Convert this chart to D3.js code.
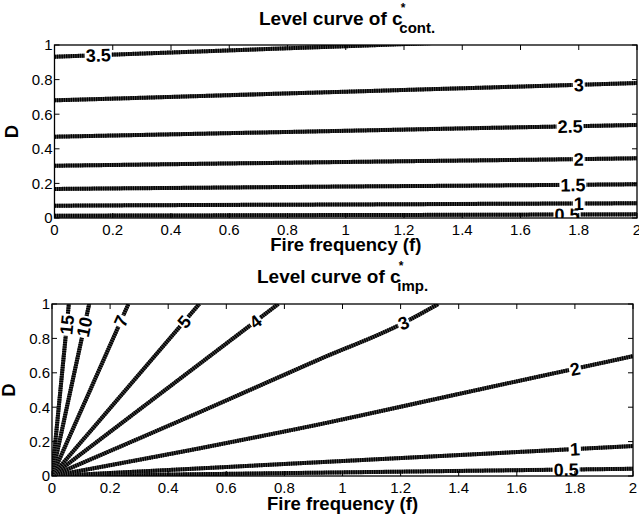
<!DOCTYPE html>
<html>
<head>
<meta charset="utf-8">
<script src="https://cdn.jsdelivr.net/npm/d3@7"></script>
<style>
  body { margin: 0; background: #fff; }
  svg { font-family: 'Liberation Sans', Arial, Helvetica, sans-serif; }
</style>
</head>
<body>
<svg id="chart" width="639" height="519"></svg>
<script>
// level curves of c*_cont. (top panel), sampled at these f values
const contF = [0, 0.5, 1, 1.5, 2]
const contLevels = ['0.5', '1', '1.5', '2', '2.5', '3', '3.5']
const contD = [
  [0.013, 0.015, 0.017, 0.019, 0.021],
  [0.071, 0.075, 0.078, 0.082, 0.085],
  [0.168, 0.175, 0.182, 0.188, 0.195],
  [0.302, 0.313, 0.324, 0.334, 0.345],
  [0.470, 0.487, 0.504, 0.521, 0.538],
  [0.680, 0.705, 0.730, 0.755, 0.780],
  [0.932, 0.963, 0.993, 1.024, 1.055]
]
const contLabelF = [1.76, 1.8, 1.78, 1.8, 1.77, 1.8, 0.15]

// level curves of c*_imp. (bottom panel), each its own f/D points
const impLevels = ['0.5', '1', '2', '3', '4', '5', '7', '10', '15']
const impF = [
  [0, 2],
  [0, 2],
  [0, 0.5, 0.92, 1.4, 2],
  [0, 0.5, 0.92, 1.21, 1.33],
  [0, 0.779],
  [0, 0.507],
  [0, 0.263],
  [0, 0.128],
  [0, 0.058]
]
const impD = [
  [0, 0.042],
  [0, 0.174],
  [0, 0.158, 0.30, 0.477, 0.697],
  [0, 0.365, 0.678, 0.89, 1.0],
  [0, 1],
  [0, 1],
  [0, 1],
  [0, 1],
  [0, 1]
]
const impLabelF = [1.77, 1.8, 1.8, 1.21, 0.70, 0.455, 0.237, 0.111, 0.051]

const xTicks = [0, 0.2, 0.4, 0.6, 0.8, 1, 1.2, 1.4, 1.6, 1.8, 2]
const yTicks = [0, 0.2, 0.4, 0.6, 0.8, 1]

const svg = d3.select('#chart')

function drawPanel (opts) {
  const {id, left, right, top, bottom, titleX, titleY, subText, xLabelY, curves} = opts
  const x = d3.scaleLinear().domain([0, 2]).range([left, right])
  const y = d3.scaleLinear().domain([0, 1]).range([bottom, top])
  const g = svg.append('g')

  svg.append('clipPath').attr('id', 'clip-' + id)
    .append('rect')
    .attr('x', left).attr('y', top)
    .attr('width', right - left).attr('height', bottom - top)

  const plot = g.append('g').attr('clip-path', `url(#clip-${id})`)
  const line = d3.line()
    .x(d => x(d[0]))
    .y(d => y(d[1]))
    .curve(d3.curveMonotoneX)

  curves.forEach(c => {
    const pts = c.f.map((f, i) => [f, c.d[i]])
    plot.append('path')
      .attr('d', line(pts))
      .attr('fill', 'none')
      .attr('stroke', '#555')
      .attr('stroke-width', 4)
    plot.append('path')
      .attr('d', line(pts))
      .attr('fill', 'none')
      .attr('stroke', '#000')
      .attr('stroke-width', 4)
      .attr('stroke-dasharray', '1.5,0.8')
  })

  // contour labels, rotated along the curve, with a gap in the line
  curves.forEach(c => {
    let i = 1
    while (i < c.f.length - 1 && c.f[i] < c.labelF) i++
    const t = (c.labelF - c.f[i - 1]) / (c.f[i] - c.f[i - 1])
    const ld = c.d[i - 1] + t * (c.d[i] - c.d[i - 1])
    const px = x(c.labelF)
    const py = y(ld)
    const ang = Math.atan2(y(c.d[i]) - y(c.d[i - 1]), x(c.f[i]) - x(c.f[i - 1])) * 180 / Math.PI
    const lg = plot.append('g').attr('transform', `translate(${px},${py}) rotate(${ang})`)
    const mask = lg.append('rect').attr('fill', '#fff')
    const txt = lg.append('text')
      .attr('text-anchor', 'middle')
      .attr('dy', '0.36em')
      .attr('font-size', 18)
      .attr('font-weight', 'bold')
      .text(c.label)
    const w = txt.node().getComputedTextLength()
    mask.attr('x', -w / 2 - 1).attr('y', -6).attr('width', w + 2).attr('height', 12)
  })

  // box with inward ticks on all four sides
  g.append('rect')
    .attr('x', left).attr('y', top)
    .attr('width', right - left).attr('height', bottom - top)
    .attr('fill', 'none').attr('stroke', '#000').attr('stroke-width', 1.3)

  const tickLen = 5
  xTicks.forEach(v => {
    g.append('line').attr('x1', x(v)).attr('x2', x(v)).attr('y1', bottom).attr('y2', bottom - tickLen)
      .attr('stroke', '#000')
    g.append('line').attr('x1', x(v)).attr('x2', x(v)).attr('y1', top).attr('y2', top + tickLen)
      .attr('stroke', '#000')
    g.append('text')
      .attr('x', x(v)).attr('y', bottom + 17)
      .attr('text-anchor', 'middle')
      .attr('font-size', 15)
      .text(d3.format('~g')(v))
  })
  yTicks.forEach(v => {
    g.append('line').attr('x1', left).attr('x2', left + tickLen).attr('y1', y(v)).attr('y2', y(v))
      .attr('stroke', '#000')
    g.append('line').attr('x1', right).attr('x2', right - tickLen).attr('y1', y(v)).attr('y2', y(v))
      .attr('stroke', '#000')
    g.append('text')
      .attr('x', left - 2).attr('y', y(v))
      .attr('dy', '0.36em')
      .attr('text-anchor', 'end')
      .attr('font-size', 15)
      .text(d3.format('~g')(v))
  })

  // labels
  g.append('text')
    .attr('x', (left + right) / 2).attr('y', xLabelY)
    .attr('text-anchor', 'middle')
    .attr('font-size', 18.5)
    .attr('font-weight', 'bold')
    .text('Fire frequency (f)')

  g.append('text')
    .attr('transform', `translate(${left - 37},${(top + bottom) / 2}) rotate(-90)`)
    .attr('text-anchor', 'middle')
    .attr('font-size', 18.5)
    .attr('font-weight', 'bold')
    .text('D')

  const title = g.append('text')
    .attr('x', titleX).attr('y', titleY)
    .attr('font-weight', 'bold')
    .attr('font-size', 19)
  title.append('tspan').text('Level curve of c')
  title.append('tspan').attr('font-size', 12).attr('dy', -13).attr('dx', -2).text('*')
  title.append('tspan').attr('font-size', 15).attr('dy', 21).attr('dx', -6).text(subText)
}

drawPanel({
  id: 'cont',
  left: 54.5, right: 637, top: 45, bottom: 218,
  titleX: 259, titleY: 25, subText: 'cont.', xLabelY: 251,
  curves: contLevels.map((l, i) => ({label: l, f: contF, d: contD[i], labelF: contLabelF[i]}))
})

drawPanel({
  id: 'imp',
  left: 52, right: 633, top: 304, bottom: 476,
  titleX: 257, titleY: 283, subText: 'imp.', xLabelY: 510,
  curves: impLevels.map((l, i) => ({label: l, f: impF[i], d: impD[i], labelF: impLabelF[i]}))
})
</script>
</body>
</html>
